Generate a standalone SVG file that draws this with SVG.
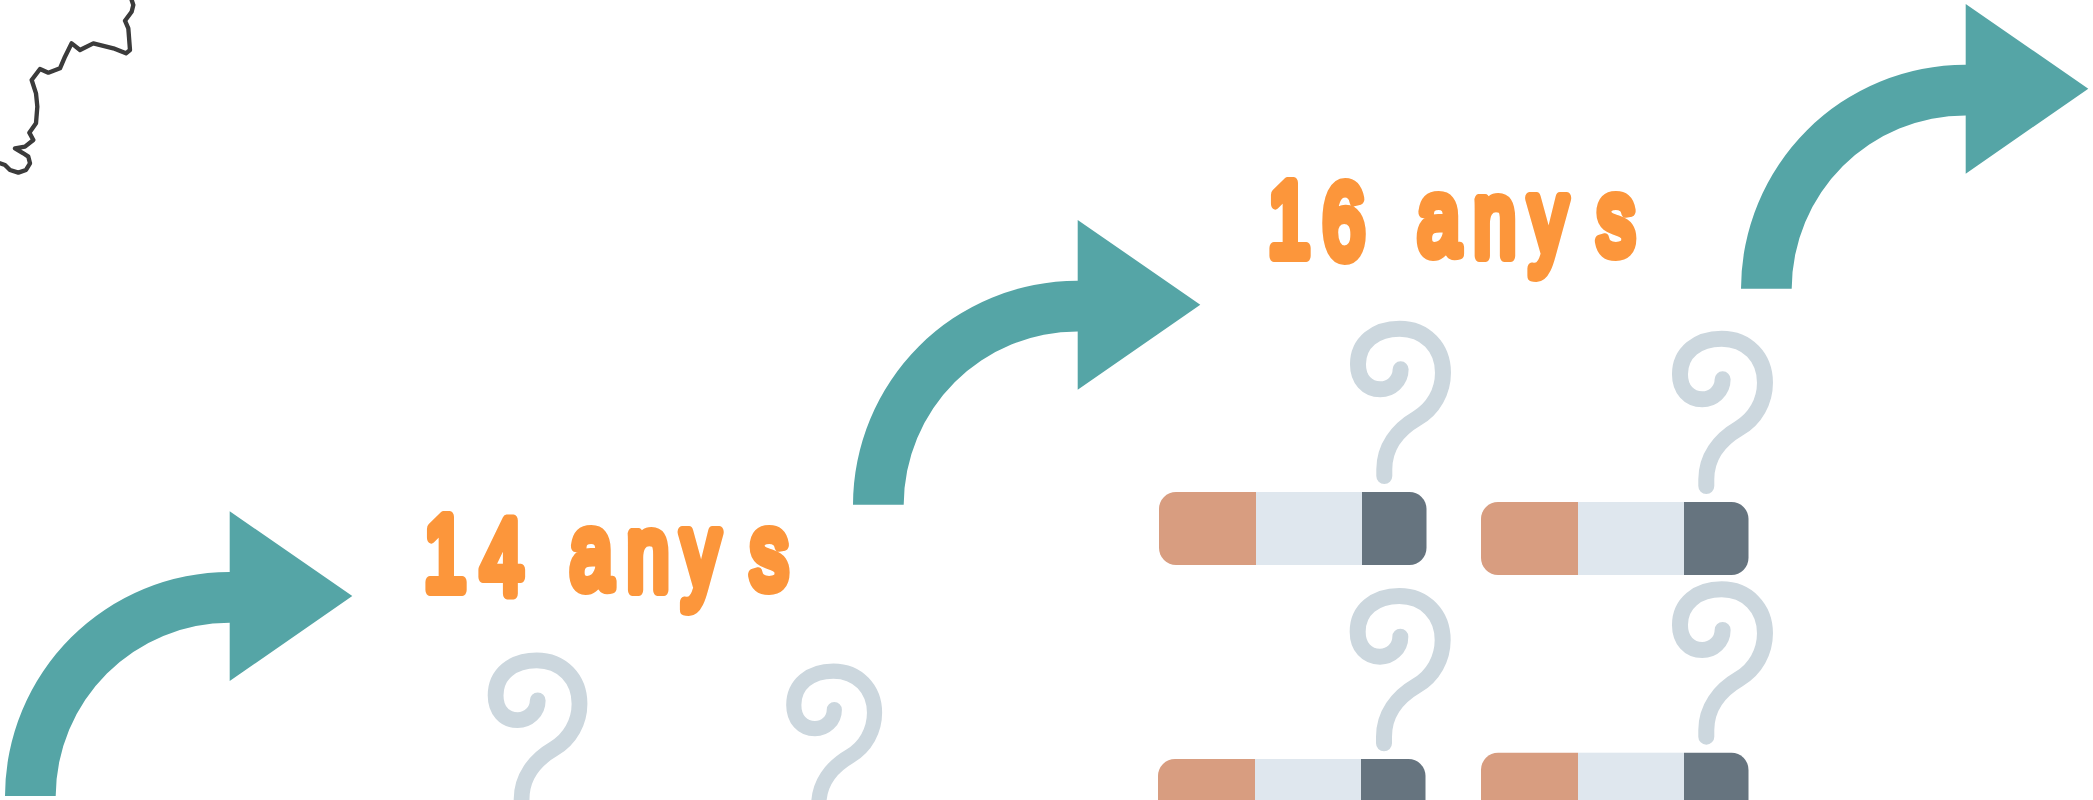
<svg xmlns="http://www.w3.org/2000/svg" width="2093" height="800" viewBox="0 0 2093 800">
<style>
.o{fill:#D89D80}.l{fill:#DFE7EE}.d{fill:#66747F}
.q{fill:none;stroke:#CCD7DE;stroke-width:16;stroke-linecap:round}
.arrow{fill:#55A5A6}
.label{font-family:"Liberation Sans",Arial,sans-serif;font-weight:400;font-size:105px;fill:#FC963B;stroke:#FC963B;stroke-width:12px;stroke-linejoin:round;stroke-linecap:round}
</style>
<defs>
<filter id="blur" x="-10%" y="-10%" width="120%" height="120%"><feGaussianBlur stdDeviation="1.1"/></filter>
<path id="arrowShape" d="M0,0A224.5,224.5 0 0 1 224.7,-224V-284.7L347.3,-200L224.7,-115V-173.3A174,174 0 0 0 50.7,0Z"/>
<path id="qShape" d="M16.33,-106.67C16.33,-95 6.67,-86.67 -4,-86.67C-17.33,-86.67 -26.33,-96.67 -26.33,-111.67C-26.33,-133.33 -9,-147.33 15.33,-147.33C41,-147.33 58.67,-128.33 58.67,-103.33C58.67,-85 49.33,-67.33 32.67,-57.67C12.67,-46 0,-28.33 0,-6.67L0,0"/>
<g id="cigShape">
<path class="o" d="M97,0H17A17,17 0 0 0 0,17V56A17,17 0 0 0 17,73H97Z"/>
<rect class="l" x="97" y="0" width="106" height="73"/>
<path class="d" d="M203,0H250.5A17,17 0 0 1 267.5,17V56A17,17 0 0 1 250.5,73H203Z"/>
</g>
</defs>
<rect width="2093" height="800" fill="#fff"/>
<g id="squiggle"><path transform="scale(0.3333)" filter="url(#blur)" fill="none" stroke="#3a3a3a" stroke-width="13" stroke-linejoin="round" stroke-linecap="round" d="M0,490L15,495L30,510L55,518L78,510L90,490L85,470L70,460L45,445L75,440L100,420L88,398L108,370L112,320L108,280L95,240L120,207L145,218L180,205L195,170L215,130L240,150L280,130L340,145L378,160L390,150L385,85L375,62L395,35L400,15L395,0"/></g>
<g id="connectors">
<use class="arrow" href="#arrowShape" x="5" y="796"/>
<use class="arrow" href="#arrowShape" x="853" y="504.7"/>
<use class="arrow" href="#arrowShape" x="1741" y="288.7"/>
</g>
<g id="label-14"><text class="label" transform="scale(0.72,1)" x="589 668 746 792 871 947 1042" y="590 594 590 588 590 588 588">14 anys</text></g>
<g id="label-16"><text class="label" transform="scale(0.72,1)" x="1761 1837 1922 1969 2047 2124 2218" y="256 258 258 254 256 254 254">16 anys</text></g>
<g id="q1"><use class="q" href="#qShape" transform="translate(521.6,805.7) scale(0.987)"/></g>
<g id="q2"><use class="q" href="#qShape" transform="translate(818.8,811) scale(0.95)"/></g>
<g id="q3"><use class="q" href="#qShape" x="1384.3" y="476"/></g>
<g id="q4"><use class="q" href="#qShape" x="1706.3" y="486"/></g>
<g id="q5"><use class="q" href="#qShape" x="1384" y="743.3"/></g>
<g id="q6"><use class="q" href="#qShape" x="1706.3" y="736.7"/></g>
<g id="cig1"><use href="#cigShape" x="1159" y="492"/></g>
<g id="cig2"><use href="#cigShape" x="1481" y="502"/></g>
<g id="cig3"><use href="#cigShape" x="1158" y="759"/></g>
<g id="cig4"><use href="#cigShape" x="1481" y="752.7"/></g>
</svg>
